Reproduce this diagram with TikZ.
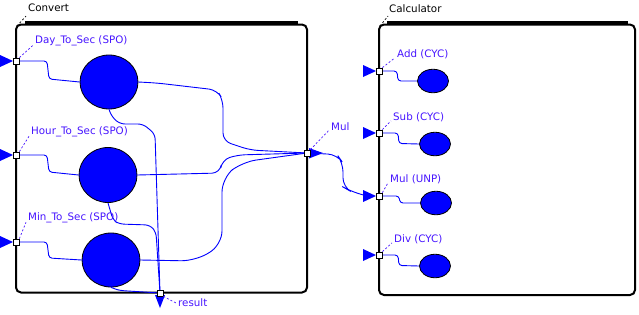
\documentclass[tikz,border=0pt]{standalone}
\usepackage{fontspec}
\setmainfont{DejaVu Sans}
\usetikzlibrary{shapes.geometric,calc}
\definecolor{wireblue}{RGB}{0,0,255}
\definecolor{lblblue}{RGB}{70,20,255}
\tikzset{
  boxline/.style={line width=2pt,rounded corners=5pt},
  topbar/.style={line width=3.5pt},
  wire/.style={wireblue,line width=0.9pt,rounded corners=6pt},
  port/.style={draw=black,fill=white,line width=0.8pt,minimum size=6pt,inner sep=0pt,rectangle},
  proc/.style={ellipse,draw=black,line width=0.8pt,fill=wireblue,inner sep=0pt},
  big/.style={proc,minimum width=58pt,minimum height=54pt},
  small/.style={proc,minimum width=31pt,minimum height=23.5pt},
  lbl/.style={text=lblblue,font=\fontsize{10.3}{12}\selectfont,inner sep=0pt,anchor=west},
  ttl/.style={text=black,font=\fontsize{10.3}{12}\selectfont,inner sep=0pt,anchor=west},
  leader/.style={lblblue,line width=0.7pt,dash pattern=on 2pt off 2pt},
  bleader/.style={black,line width=0.7pt,dash pattern=on 2pt off 2pt},
  tri/.style={fill=wireblue}
}
\begin{document}
\begin{tikzpicture}[x=1pt,y=-1pt]
\useasboundingbox (0,0) rectangle (639,314);
% boxes
\draw[boxline] (16,24.5) rectangle (307,292.5);
\draw[topbar] (25,22.5) -- (298,22.5);
\draw[boxline] (379,24.5) rectangle (635,295);
\draw[topbar] (387,22.5) -- (628,22.5);
% titles
\node[ttl] (tConv) at (28,8) {Convert};
\node[ttl] (tCalc) at (389,9) {Calculator};
\coordinate (cConv) at (17,26);
\coordinate (cCalc) at (380,26);
\draw[bleader] (cConv) -- (26,16);
\draw[bleader] (cCalc) -- (388,16);
% processes
\node[big] (dc) at (109,82) {};
\node[big,minimum height=55pt] (hc) at (108,175) {};
\node[big] (mc) at (111,260) {};
\node[small] (ae) at (433,81) {};
\node[small] (se) at (435,144) {};
\node[small] (ue) at (436,203) {};
\node[small] (ve) at (435,266) {};
% wires Convert
\draw[wire,rounded corners=3pt] (16,61) -- (47,61) -- (49,79) -- (dc.west);
\draw[wire,rounded corners=3pt] (16,155) -- (47,155) -- (49,172) -- (hc.west);
\draw[wire,rounded corners=3pt] (16,242) -- (47,242) -- (49,258) -- (mc.west);
\draw[wire,rounded corners=8pt] (dc.east) -- (157,83) -- (217,90) -- (223,100) -- (223,141) -- (250,150) -- (307,153);
\draw[wire,rounded corners=8pt] (hc.east) -- (220,173) -- (222,160) -- (237,155) -- (307,153);
\draw[wire,rounded corners=14pt] (mc.east) -- (195,261) -- (222,245) -- (222,178) -- (242,162) -- (307,153);
\draw[wire,rounded corners=5pt] (dc.south) -- (112,117) -- (120,124) -- (143,124) -- (155,134) -- (160,293);
\draw[wire,rounded corners=5pt] (hc.south) -- (113,220) -- (119,224) -- (150,225) -- (156,232) -- (160,293);
\draw[wire,rounded corners=4pt] (mc.south) -- (115,289) -- (120,290.5) -- (160,293);
% Mul to Mul(UNP)
\draw[wire,rounded corners=9pt] (307,153) -- (337,154.5) -- (343,163) -- (343,187) -- (350,191) -- (365,195.5);
% wires Calculator
\draw[wire,rounded corners=3pt] (379,71) -- (397,71) -- (398,81) -- (ae.west);
\draw[wire,rounded corners=3pt] (379,133) -- (398,133) -- (399,143.5) -- (se.west);
\draw[wire,rounded corners=3pt] (379,196) -- (399,196) -- (400,203) -- (ue.west);
\draw[wire,rounded corners=3pt] (379,255) -- (398,255) -- (399,265.5) -- (ve.west);
% arrow markers
\fill[tri] (0,55) -- (13,61) -- (0,67) -- cycle;
\fill[tri] (0,149) -- (13,155) -- (0,161) -- cycle;
\fill[tri] (0,236) -- (13,242) -- (0,248) -- cycle;
\fill[tri] (309,148) -- (323,153) -- (309,158.5) -- cycle;
\fill[tri] (155,295) -- (160,308) -- (165,295) -- cycle;
\fill[tri] (363,65) -- (376,71) -- (363,77) -- cycle;
\fill[tri] (363,127) -- (376,133) -- (363,139) -- cycle;
\fill[tri] (363,190) -- (376,196) -- (363,202) -- cycle;
\fill[tri] (363,249) -- (376,255) -- (363,261) -- cycle;
% ports
\node[port] (pD) at (16,61) {};
\node[port] (pH) at (16,155) {};
\node[port] (pN) at (16,242) {};
\node[port] (pM) at (307,153) {};
\node[port] (pR) at (160,293) {};
\node[port] (pA) at (379,71) {};
\node[port] (pS) at (379,133) {};
\node[port] (pU) at (379,196) {};
\node[port] (pV) at (379,255) {};
% labels
\node[lbl] (lD) at (35,41) {Day\_To\_Sec (SPO)};
\node[lbl] (lH) at (31,132) {Hour\_To\_Sec (SPO)};
\node[lbl] (lN) at (28,218) {Min\_To\_Sec (SPO)};
\node[lbl] (lM) at (331,127) {Mul};
\node[lbl] (lR) at (178,303) {result};
\node[lbl] (lA) at (397,54) {Add (CYC)};
\node[lbl] (lS) at (393,117) {Sub (CYC)};
\node[lbl] (lU) at (390,179) {Mul (UNP)};
\node[lbl] (lV) at (394,239) {Div (CYC)};
% leaders
\draw[leader] (pD.north east) -- ($(lD.south west)+(-2,-1)$);
\draw[leader] (pH.north east) -- ($(lH.south west)+(-2,-1)$);
\draw[leader] (pN.north east) -- ($(lN.south west)+(-2,-1)$);
\draw[leader] (pM.north east) -- ($(lM.south west)+(-2,-1)$);
\draw[leader] (pR.south east) -- ($(lR.west)+(-2,0)$);
\draw[leader] (pA.north east) -- ($(lA.south west)+(-2,-1)$);
\draw[leader] (pS.north east) -- ($(lS.south west)+(-2,-1)$);
\draw[leader] (pU.north east) -- ($(lU.south west)+(-2,-1)$);
\draw[leader] (pV.north east) -- ($(lV.south west)+(-2,-1)$);
\end{tikzpicture}
\end{document}
